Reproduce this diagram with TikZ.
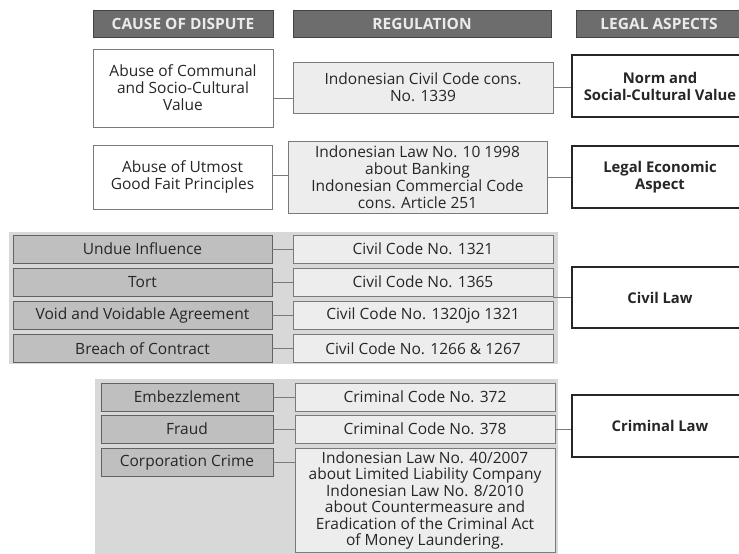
\documentclass[tikz,border=0pt]{standalone}
\usepackage{fontspec}
\setmainfont{Open Sans}
\usepackage{tikz}
\usetikzlibrary{positioning}

\definecolor{headgray}{HTML}{6D6D6D}
\definecolor{headline}{HTML}{444444}
\definecolor{panelgray}{HTML}{D8D8D8}
\definecolor{boxgray}{HTML}{BFBFBF}
\definecolor{lightfill}{HTML}{EDEDED}
\definecolor{linegray}{HTML}{7A7A7A}
\definecolor{textgray}{HTML}{262626}

\newcommand{\bodyfont}{\fontsize{15.5}{17}\selectfont}

\begin{document}
\begin{tikzpicture}[x=1pt,y=-1pt,
    headbox/.style={draw=headline, fill=headgray, text=white!92!black, font=\fontsize{15.5}{17}\selectfont\bfseries, minimum height=27, inner sep=0pt, line width=0.8pt},
    whitebox/.style={draw=linegray, fill=white, text=textgray, font=\bodyfont, align=center, line width=0.9pt, inner sep=2pt},
    regbox/.style={draw=linegray, fill=lightfill, text=textgray, font=\bodyfont, align=center, line width=0.9pt, inner sep=2pt},
    causebox/.style={draw=linegray!80!black, fill=boxgray, text=textgray, font=\bodyfont, minimum height=28, line width=0.9pt, inner sep=0pt},
    lawbox/.style={draw=black!85, fill=white, text=textgray, font=\fontsize{14.8}{17}\selectfont\bfseries, align=center, line width=1.6pt, minimum width=176, minimum height=62},
    link/.style={draw=linegray, line width=0.9pt}
  ]
  \useasboundingbox (0,0) rectangle (739,554);

  % Column heads
  \node[headbox, minimum width=180] (hcause) at (183,23.5) {CAUSE OF DISPUTE};
  \node[headbox, minimum width=258] (hreg) at (422,23.5) {REGULATION};
  \node[headbox, minimum width=166] (hlegal) at (659,23.5) {LEGAL ASPECTS};

  % Communal value
  \node[whitebox, minimum width=180, minimum height=78] (cause1) at (183,88) {Abuse of Communal\\and Socio-Cultural\\Value};
  \node[regbox, minimum width=260, minimum height=51] (reg1) at (423,87.5) {Indonesian Civil Code cons.\\No. 1339};
  \node[lawbox] (legal1) at (660,86) {Norm and\\Social-Cultural Value};

  % Good faith
  \node[whitebox, minimum width=179, minimum height=64] (cause2) at (182.5,177) {Abuse of Utmost\\Good Fait Principles};
  \node[regbox, minimum width=259, minimum height=72, inner sep=1pt] (reg2) at (417.5,177) {Indonesian Law No. 10 1998\\about Banking\\Indonesian Commercial Code\\cons. Article 251};
  \node[lawbox] (legal2) at (660,177) {Legal Economic\\Aspect};

  % Civil law
  \fill[panelgray] (9,232) rectangle (558,364);
  \node[causebox, minimum width=259] (cu1) at (142.5,249) {Undue Influence};
  \node[causebox, minimum width=259] (cu2) at (142.5,282) {Tort};
  \node[causebox, minimum width=259] (cu3) at (142.5,315) {Void and Voidable Agreement};
  \node[causebox, minimum width=259] (cu4) at (142.5,348.5) {Breach of Contract};
  \node[regbox, minimum width=260, minimum height=28, inner sep=0pt] (rc1) at (423,249) {Civil Code No. 1321};
  \node[regbox, minimum width=260, minimum height=28, inner sep=0pt] (rc2) at (423,282) {Civil Code No. 1365};
  \node[regbox, minimum width=260, minimum height=28, inner sep=0pt] (rc3) at (423,315) {Civil Code No. 1320jo 1321};
  \node[regbox, minimum width=260, minimum height=28, inner sep=0pt] (rc4) at (423,348.5) {Civil Code No. 1266 \& 1267};
  \node[lawbox, minimum height=61] (civil) at (660,297.5) {Civil Law};

  % Criminal law
  \fill[panelgray] (95,379) rectangle (558,560);
  \node[causebox, minimum width=172] (ck1) at (187,397) {Embezzlement};
  \node[causebox, minimum width=172] (ck2) at (187,429) {Fraud};
  \node[causebox, minimum width=172] (ck3) at (187,462.5) {Corporation Crime};
  \node[regbox, minimum width=260, minimum height=28, inner sep=0pt] (rk1) at (425,397) {Criminal Code No. 372};
  \node[regbox, minimum width=260, minimum height=28, inner sep=0pt] (rk2) at (425,429) {Criminal Code No. 378};
  \node[regbox, minimum width=260, anchor=north, inner sep=3pt, font=\fontsize{15.5}{16.5}\selectfont] (rk3) at (425,448) {Indonesian Law No. 40/2007\\about Limited Liability Company\\Indonesian Law No. 8/2010\\about Countermeasure and\\Eradication of the Criminal Act\\of Money Laundering.};
  \node[lawbox] (criminal) at (660,426) {Criminal Law};

  % Connectors
  \draw[link] ([yshift=-10pt]cause1.east) -- ([yshift=-10pt]cause1.east -| reg1.west);
  \draw[link] (reg1.east) -- (reg1.east -| legal1.west);
  \draw[link] ([yshift=2pt]cause2.east) -- ([yshift=2pt]cause2.east -| reg2.west);
  \draw[link] (reg2.east) -- (reg2.east -| legal2.west);
  \foreach \i in {1,...,4}
    \draw[link] (cu\i.east) -- (rc\i.west);
  \draw[link] (civil.west) -- (civil.west -| rc2.east);
  \foreach \i in {1,2,3}
    \draw[link] (ck\i.east) -- (ck\i.east -| rk\i.west);
  \draw[link] (rk2.east) -- (rk2.east -| criminal.west);
\end{tikzpicture}
\end{document}
